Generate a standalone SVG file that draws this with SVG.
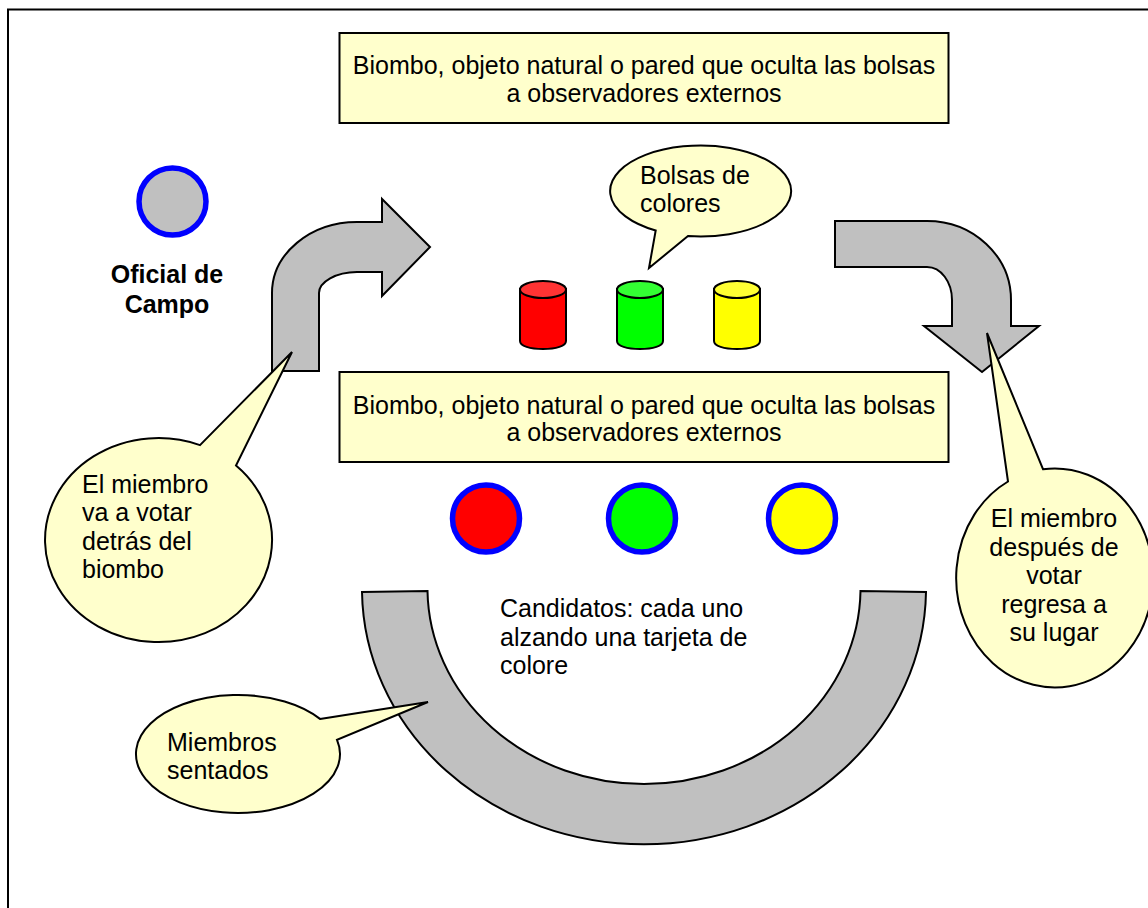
<svg xmlns="http://www.w3.org/2000/svg" width="1148" height="908" viewBox="0 0 1148 908">
<style>
text{font-family:"Liberation Sans",Arial,sans-serif;font-size:25px;fill:#000}
.b{font-weight:bold}
.m{text-anchor:middle}
.box,.call{fill:#ffffcc;stroke:#000;stroke-width:2}
.arrow{fill:#c0c0c0;stroke:#000;stroke-width:2}
.dot{stroke:#0000ff;stroke-width:5.500}
.cyl{stroke:#000;stroke-width:2}
</style>
<rect width="1148" height="908" fill="#fff"/>
<path d="M8 908V9.500H1148" fill="none" stroke="#000" stroke-width="2"/>
<g id="connectors">
<path class="arrow" d="M272 371V293C272 254 310 222 357 222H382V199L430 247L382 296V272H357C336 272 319 282 319 293V371Z"/>
<path class="arrow" d="M835 221H927C973 221 1011 256 1011 300V326H1039L982 372L924 326H952V300C952 282 941 267 927 267H835Z"/>
<path class="arrow" d="M362 592A282.030 256 0 0 0 926 592L860.500 591A216.525 196 0 0 1 427.500 591Z"/>
</g>
<g id="biombo-top"><rect class="box" x="339.500" y="33" width="609" height="90"/>
<text class="m" x="644" y="74">Biombo, objeto natural o pared que oculta las bolsas</text><text class="m" x="644" y="102">a observadores externos</text></g>
<g id="biombo-bottom"><rect class="box" x="339.500" y="372" width="609" height="90"/>
<text class="m" x="644" y="414">Biombo, objeto natural o pared que oculta las bolsas</text><text class="m" x="644" y="441">a observadores externos</text></g>
<g id="oficial"><circle class="dot" cx="172.500" cy="201.500" r="33.500" fill="#c0c0c0"/>
<text class="m b" x="167" y="283">Oficial de</text><text class="m b" x="167" y="313">Campo</text></g>
<g id="bolsas-label"><path class="call" d="M655.700 230.500A90.500 45.500 0 1 1 688 236.060L649 268Z"/>
<text x="640" y="184">Bolsas de</text><text x="640" y="212">colores</text></g>
<g id="bolsa-roja"><path class="cyl" fill="#ff0000" d="M520 289V341C520 346 530 349 543 349C556 349 566 346 566 341V289Z"/><ellipse class="cyl" fill="#ff3333" cx="543" cy="289.500" rx="23" ry="8.500"/></g>
<g id="bolsa-verde"><path class="cyl" fill="#00ff00" d="M617 289V341C617 346 627 349 640 349C653 349 663 346 663 341V289Z"/><ellipse class="cyl" fill="#33ff33" cx="640" cy="289.500" rx="23" ry="8.500"/></g>
<g id="bolsa-amarilla"><path class="cyl" fill="#ffff00" d="M714 289V341C714 346 724 349 737 349C750 349 760 346 760 341V289Z"/><ellipse class="cyl" fill="#ffff33" cx="737" cy="289.500" rx="23" ry="8.500"/></g>
<g id="candidato-rojo"><circle class="dot" cx="486" cy="518.500" r="33.500" fill="#ff0000"/></g>
<g id="candidato-verde"><circle class="dot" cx="642" cy="518.500" r="33.500" fill="#00ff00"/></g>
<g id="candidato-amarillo"><circle class="dot" cx="802" cy="518.500" r="33.500" fill="#ffff00"/></g>
<g id="candidatos"><text x="500" y="617">Candidatos: cada uno</text><text x="500" y="646">alzando una tarjeta de</text><text x="500" y="674">colore</text></g>
<g id="miembro-va"><path class="call" d="M200 445.100L292 352L236 465.500A113.500 102 0 1 1 200 445.100Z"/>
<text x="82" y="493">El miembro</text><text x="82" y="521">va a votar</text><text x="82" y="550">detrás del</text><text x="82" y="578">biombo</text></g>
<g id="miembro-regresa"><path class="call" d="M1008 481.500L987 333L1043 469.200A98.500 109.500 0 1 1 1008 481.500Z"/>
<text class="m" x="1054" y="527">El miembro</text><text class="m" x="1054" y="556">después de</text><text class="m" x="1054" y="584">votar</text><text class="m" x="1054" y="613">regresa a</text><text class="m" x="1054" y="641">su lugar</text></g>
<g id="miembros-sentados"><path class="call" d="M320 718.900L428 702L337 739.800A102 59 0 1 1 320 718.900Z"/>
<text x="167" y="751">Miembros</text><text x="167" y="779">sentados</text></g>
</svg>
